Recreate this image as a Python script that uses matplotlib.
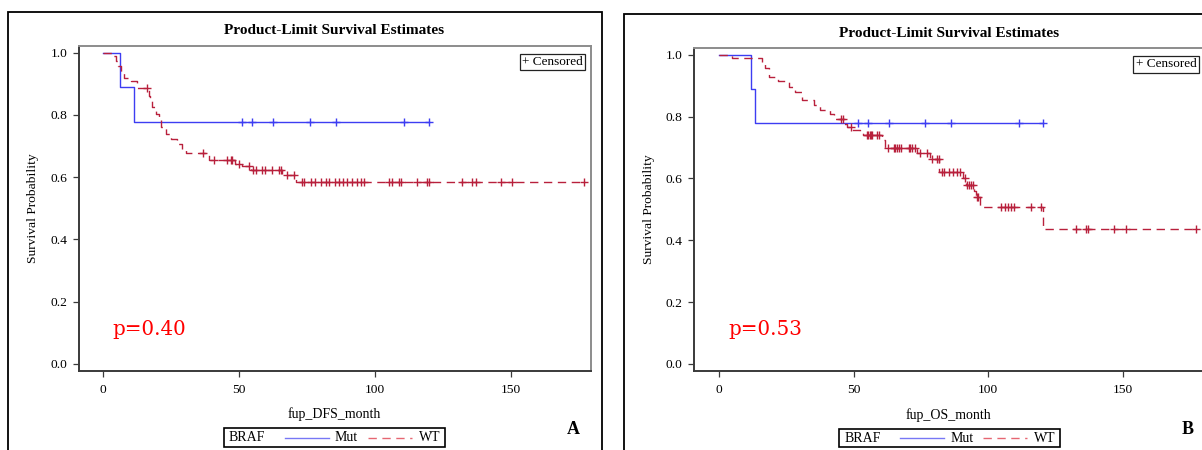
import numpy as np
import matplotlib
matplotlib.use("Agg")
import matplotlib.pyplot as plt
from matplotlib.lines import Line2D
from matplotlib.patches import Rectangle

# ---------------- data (Kaplan-Meier step functions) ----------------
# Disease-free survival, BRAF mutant
dfs_mut_times = [6.1, 11.5]
dfs_mut_surv = [0.889, 0.778]
dfs_mut_cens = [51.0, 54.8, 62.5, 76.0, 85.6, 110.5, 120.0]

# Disease-free survival, BRAF wild type
dfs_wt_times = [3.2, 4.7, 5.6, 6.5, 7.7, 10.2, 12.6, 16.7, 17.1, 18.1, 19.6,
                20.6, 21.2, 23.0, 24.9, 27.0, 28.9, 30.6, 39.0, 48.5, 51.2,
                54.3, 65.9, 70.8]
dfs_wt_surv = [0.990, 0.974, 0.956, 0.937, 0.919, 0.907, 0.886, 0.862, 0.846,
               0.825, 0.803, 0.782, 0.761, 0.739, 0.723, 0.707, 0.689, 0.677,
               0.655, 0.643, 0.635, 0.622, 0.607, 0.585]
dfs_wt_cens = [16.0, 36.8, 40.8, 45.5, 46.9, 47.4, 50.0, 53.7, 55.1, 56.1,
               58.6, 59.6, 62.2, 64.5, 65.3, 67.8, 70.2, 73.0, 73.9, 76.4,
               77.9, 80.0, 81.9, 83.1, 85.3, 86.8, 88.3, 89.8, 91.7, 93.5,
               94.7, 96.0, 105.1, 106.4, 108.8, 109.4, 115.6, 119.2, 119.9,
               132.1, 135.8, 137.0, 146.2, 150.5, 177.0]

# Overall survival, BRAF mutant
os_mut_times = [11.8, 13.4]
os_mut_surv = [0.889, 0.778]
os_mut_cens = [51.4, 55.2, 63.2, 76.6, 86.3, 111.4, 120.3]

# Overall survival, BRAF wild type
os_wt_times = [4.7, 15.9, 16.9, 18.4, 21.9, 25.8, 28.3, 30.8, 35.1, 37.6,
               41.3, 42.5, 46.2, 47.4, 49.3, 52.4, 53.6, 60.4, 61.6, 73.5,
               78.3, 81.9, 90.5, 91.7, 94.6, 95.6, 97.0, 120.4]
os_wt_surv = [0.989, 0.975, 0.958, 0.928, 0.915, 0.895, 0.879, 0.855, 0.839,
              0.823, 0.807, 0.791, 0.777, 0.766, 0.758, 0.748, 0.740, 0.723,
              0.699, 0.682, 0.663, 0.621, 0.601, 0.580, 0.558, 0.540, 0.509,
              0.436]
os_wt_cens = [45.3, 45.9, 49.0, 54.9, 55.4, 55.9, 56.4, 56.7, 58.6, 59.5,
              62.9, 64.8, 65.4, 66.1, 66.7, 67.6, 70.4, 71.1, 71.7, 72.9,
              74.8, 77.3, 79.2, 80.8, 81.6, 82.8, 83.4, 85.3, 87.1, 88.4,
              89.6, 91.4, 92.2, 93.0, 93.6, 94.2, 96.0, 96.3, 104.8, 106.1,
              107.3, 108.5, 109.8, 116.0, 119.8, 132.6, 136.4, 137.3, 146.9,
              151.2, 177.3]

y_ticks = [0.0, 0.2, 0.4, 0.6, 0.8, 1.0]
x_ticks = [0, 50, 100, 150]
p_values = ["p=0.40", "p=0.53"]
x_labels = ["fup_DFS_month", "fup_OS_month"]
panel_letters = ["A", "B"]
group_name = "BRAF"
group_labels = ["Mut", "WT"]

# ---------------- styling ----------------
W, H = 1202, 450
SERIF = "Liberation Serif"
BLUE = "#3d3df2"
RED = "#b8203c"
WT_DASH = (6, 4)


def fx(px):
    return px / W


def fy(py):
    return 1 - py / H


def km(ax, times, surv, cens, color, dashed):
    times = np.asarray(times, float)
    surv = np.asarray(surv, float)
    cens = np.asarray(cens, float)
    t_end = max(cens.max(), times.max())
    t = np.r_[0.0, times, t_end]
    s = np.r_[1.0, surv, surv[-1]]
    (ln,) = ax.step(t, s, where="post", color=color, lw=1.0)
    if dashed:
        ln.set_dashes(WT_DASH)
    lev = np.r_[1.0, surv][np.searchsorted(times, cens, side="right")]
    ax.plot(cens, lev, ls="none", marker="+", ms=6, mew=1.0, color=color)


fig = plt.figure(figsize=(W / 100, H / 100), dpi=100)

panels = [
    dict(frame=(8.4, 11.7, 602.0), ax=(78.5, 45.7, 590.5, 370.7),
         xlim=(-9.1, 179.3), title_y=30.7, xlab_y=414.0,
         leg_x=224.0, leg_y=(428.3, 446.7), letter=(573.0, 429.0),
         data=[(dfs_mut_times, dfs_mut_surv, dfs_mut_cens),
               (dfs_wt_times, dfs_wt_surv, dfs_wt_cens)]),
    dict(frame=(624.1, 14.0, 1240.0), ax=(693.8, 48.0, 1204.0, 370.7),
         xlim=(-9.5, 180.3), title_y=33.3, xlab_y=415.0,
         leg_x=839.2, leg_y=(429.0, 447.0), letter=(1187.5, 429.0),
         data=[(os_mut_times, os_mut_surv, os_mut_cens),
               (os_wt_times, os_wt_surv, os_wt_cens)]),
]

for i, p in enumerate(panels):
    # outer panel frame (open at the bottom edge of the figure)
    fl, ft, fr = p["frame"]
    fig.add_artist(Rectangle((fx(fl), fy(H + 20)), fx(fr) - fx(fl),
                             fy(ft) - fy(H + 20), transform=fig.transFigure,
                             fill=False, ec="black", lw=1.3))

    l, t, r, b = p["ax"]
    ax = fig.add_axes([fx(l), fy(b), fx(r) - fx(l), fy(t) - fy(b)])
    (mt, ms, mc), (wt, ws, wc) = p["data"]
    km(ax, mt, ms, mc, BLUE, False)
    km(ax, wt, ws, wc, RED, True)

    ax.set_xlim(*p["xlim"])
    ax.set_ylim(-0.022, 1.022)
    ax.set_yticks(y_ticks)
    ax.set_yticklabels([f"{v:.1f}" for v in y_ticks])
    ax.set_xticks(x_ticks)
    for sp in ("left", "bottom"):
        ax.spines[sp].set_color("#3a3a3a")
        ax.spines[sp].set_linewidth(1.4)
    for sp in ("top", "right"):
        ax.spines[sp].set_color("#8c8c8c")
        ax.spines[sp].set_linewidth(1.4)
    ax.tick_params(axis="both", direction="out", length=4.5, width=0.9,
                   color="#3a3a3a", labelsize=9.7, pad=3.5)
    ax.tick_params(axis="x", pad=5)
    for lab in ax.get_xticklabels() + ax.get_yticklabels():
        lab.set_family(SERIF)

    ax.set_ylabel("Survival Probability", family=SERIF, fontsize=9.7,
                  labelpad=8)

    # p-value annotation
    ax.text(3.2, 0.092, p_values[i], color="red", family="DejaVu Serif",
            fontsize=14.3, ha="left", va="baseline")

    # censored key
    ax.text(0.985, 0.968, "+ Censored", transform=ax.transAxes, ha="right",
            va="top", family=SERIF, fontsize=9.5,
            bbox=dict(boxstyle="square,pad=0.18", fc="white", ec="#222222",
                      lw=0.9))

    cx = (l + r) / 2
    fig.text(fx(cx), fy(p["title_y"]), "Product-Limit Survival Estimates",
             ha="center", va="center", family=SERIF, fontsize=11,
             fontweight="bold")
    fig.text(fx(cx), fy(p["xlab_y"]), x_labels[i], ha="center",
             va="center", family=SERIF, fontsize=10)

    # group key under the plot
    lx = p["leg_x"]
    ly0, ly1 = p["leg_y"]
    ym = (ly0 + ly1) / 2
    fig.add_artist(Rectangle((fx(lx), fy(ly1)), fx(lx + 221) - fx(lx),
                             fy(ly0) - fy(ly1), transform=fig.transFigure,
                             fill=False, ec="black", lw=1.2))
    fig.text(fx(lx + 5), fy(ym), group_name, ha="left", va="center",
             family=SERIF, fontsize=10)
    fig.add_artist(Line2D([fx(lx + 61), fx(lx + 105)], [fy(ym), fy(ym)],
                          transform=fig.transFigure, color=BLUE, lw=1.0,
                          alpha=0.7))
    fig.text(fx(lx + 111), fy(ym), group_labels[0], ha="left", va="center",
             family=SERIF, fontsize=10)
    ln = Line2D([fx(lx + 144), fx(lx + 188)], [fy(ym), fy(ym)],
                transform=fig.transFigure, color="#e0404f", lw=1.0,
                alpha=0.8)
    ln.set_dashes(WT_DASH)
    fig.add_artist(ln)
    fig.text(fx(lx + 195), fy(ym), group_labels[1], ha="left", va="center",
             family=SERIF, fontsize=10)

    lx_, ly_ = p["letter"]
    fig.text(fx(lx_), fy(ly_), panel_letters[i], ha="center", va="center",
             family=SERIF, fontsize=13, fontweight="bold")

fig.savefig("out.png", dpi=100)
